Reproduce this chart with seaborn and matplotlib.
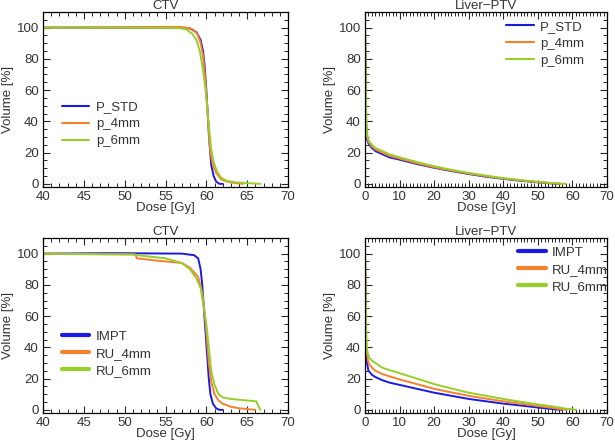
import numpy as np
import pandas as pd
import matplotlib
matplotlib.use("Agg")
import matplotlib.pyplot as plt
import seaborn as sns
from matplotlib.ticker import MultipleLocator

# --- CTV, top panel (x = dose Gy, y = volume %)
ctv_std_x = [40, 57, 58, 58.8, 59.3, 59.6, 59.8, 60.0, 60.2, 60.4, 60.6, 60.9, 61.2, 61.6, 62.0]
ctv_std_y = [100, 100, 99.5, 97, 92, 85, 75, 60, 42, 25, 12, 5, 1.5, 0, 0]
ctv_4mm_x = [40, 56.5, 57.5, 58.3, 58.9, 59.3, 59.6, 59.9, 60.1, 60.3, 60.5, 60.8, 61.2, 61.8, 62.5, 63.5, 64.5]
ctv_4mm_y = [100, 100.5, 100, 99, 96, 90, 82, 65, 50, 32, 20, 12, 7, 3, 1.5, 0.5, 0]
ctv_6mm_x = [40, 56.5, 57.5, 58.3, 58.8, 59.2, 59.5, 59.8, 60.0, 60.3, 60.6, 60.9, 61.3, 61.8, 62.5, 63.5, 65.0, 66.6]
ctv_6mm_y = [100, 99.8, 99, 96, 92, 85, 76, 65, 55, 38, 22, 14, 8, 4, 2, 1, 0.5, 0]

# --- Liver-PTV, top panel
liv_std_x = [0, 0.15, 0.3, 0.5, 1, 2, 3, 5, 7, 10, 15, 20, 25, 30, 35, 40, 45, 50, 54, 56]
liv_std_y = [100, 75, 40, 29, 26, 23, 21, 19, 17, 15.5, 12.7, 10.3, 8.2, 6.3, 4.6, 3.2, 2.0, 1.0, 0.3, 0]
liv_4mm_x = [0, 0.15, 0.3, 0.5, 1, 2, 3, 5, 7, 10, 15, 20, 25, 30, 35, 40, 45, 50, 55, 57]
liv_4mm_y = [100, 78, 45, 31, 27, 24, 22, 20, 18, 16.2, 13.2, 10.6, 8.5, 6.6, 4.9, 3.4, 2.2, 1.1, 0.3, 0]
liv_6mm_x = [0, 0.15, 0.3, 0.5, 1, 2, 3, 5, 7, 10, 15, 20, 25, 30, 35, 40, 45, 50, 55, 58]
liv_6mm_y = [100, 85, 50, 33, 28, 25, 23, 21, 19, 17, 14, 11.3, 9, 7, 5.3, 3.7, 2.5, 1.3, 0.4, 0]

# --- CTV, bottom panel
ctv_impt_x = [40, 48.5, 57, 58.5, 59.0, 59.3, 59.5, 59.7, 59.9, 60.1, 60.3, 60.5, 60.8, 61.2, 61.6, 62.0]
ctv_impt_y = [100, 100.3, 100, 99, 97, 90, 80, 65, 50, 35, 20, 10, 4, 1, 0, 0]
ctv_ru4_x = [40, 43, 51.3, 51.5, 54, 57, 58, 59, 59.5, 59.8, 60.0, 60.3, 60.6, 61.0, 61.5, 62, 63, 64, 66]
ctv_ru4_y = [100, 99.7, 99.5, 97, 95.5, 94, 91, 85, 75, 62, 50, 30, 18, 10, 6, 4, 2, 1, 0]
ctv_ru6_x = [40, 51, 51.5, 55, 57, 58, 58.8, 59.3, 59.7, 60.0, 60.3, 60.6, 61.0, 61.5, 62, 63, 64, 65, 66.1, 66.6]
ctv_ru6_y = [100, 99.5, 99, 97, 94, 90, 84, 78, 65, 55, 40, 25, 16, 10, 8, 7, 6.5, 6, 5.5, 0]

# --- Liver-PTV, bottom panel
liv_impt_x = [0, 0.15, 0.3, 0.5, 1, 2, 3, 5, 7, 10, 15, 20, 25, 30, 35, 40, 45, 50, 55, 57]
liv_impt_y = [100, 78, 40, 31, 25, 22.5, 21, 19, 17.5, 16, 13.5, 11, 9, 7, 5.5, 4, 2.8, 1.5, 0.3, 0]
liv_ru4_x = [0, 0.15, 0.3, 0.5, 1, 2, 3, 5, 7, 10, 15, 20, 25, 30, 35, 40, 45, 50, 55, 58]
liv_ru4_y = [100, 80, 45, 37, 30, 27, 25, 23, 21.5, 19.5, 16.5, 13.5, 11.2, 9, 7.2, 5.5, 4, 2.5, 1, 0]
liv_ru6_x = [0, 0.15, 0.3, 0.5, 1, 2, 3, 5, 7, 10, 15, 20, 25, 30, 35, 40, 45, 50, 55, 58, 60, 61]
liv_ru6_y = [100, 85, 55, 40, 34, 31.5, 30, 27, 25.5, 23.5, 20, 16.5, 13.7, 11, 9, 7, 5.2, 3.5, 2, 0.8, 0.3, 0]

top_names = ["P_STD", "p_4mm", "p_6mm"]
bot_names = ["IMPT", "RU_4mm", "RU_6mm"]
colors = ["#1a1ae0", "#f7802c", "#96cf2a"]


def frame(names, xs, ys):
    parts = []
    for n, x, y in zip(names, xs, ys):
        parts.append(pd.DataFrame({"dose": x, "vol": y, "plan": n}))
    return pd.concat(parts, ignore_index=True)


panels = [
    (frame(top_names, [ctv_std_x, ctv_4mm_x, ctv_6mm_x], [ctv_std_y, ctv_4mm_y, ctv_6mm_y]), "CTV", top_names, 1.5),
    (frame(top_names, [liv_std_x, liv_4mm_x, liv_6mm_x], [liv_std_y, liv_4mm_y, liv_6mm_y]), "Liver\u2212PTV", top_names, 1.5),
    (frame(bot_names, [ctv_impt_x, ctv_ru4_x, ctv_ru6_x], [ctv_impt_y, ctv_ru4_y, ctv_ru6_y]), "CTV", bot_names, 3.0),
    (frame(bot_names, [liv_impt_x, liv_ru4_x, liv_ru6_x], [liv_impt_y, liv_ru4_y, liv_ru6_y]), "Liver\u2212PTV", bot_names, 3.0),
]

sns.set_style("ticks")
plt.rcParams["font.family"] = ["Liberation Sans", "DejaVu Sans"]
plt.rcParams["axes.linewidth"] = 0.9
fs = 9.5
txt = "#333333"

fig = plt.figure(figsize=(6.15, 4.44), dpi=100)
rects = [
    [43 / 615, 1 - 187 / 444, 245 / 615, 175 / 444],
    [365 / 615, 1 - 187 / 444, 242 / 615, 175 / 444],
    [43 / 615, 1 - 413 / 444, 245 / 615, 175 / 444],
    [365 / 615, 1 - 413 / 444, 242 / 615, 175 / 444],
]
legend_pos = [(0.055, 0.52), (0.56, 0.98), (0.055, 0.50), (0.61, 0.98)]

for i, (df, title, names, leg_lw) in enumerate(panels):
    ax = fig.add_axes(rects[i])
    sns.lineplot(data=df, x="dose", y="vol", hue="plan", hue_order=names,
                 palette=colors, estimator=None, sort=False, linewidth=1.4, ax=ax)
    is_ctv = title == "CTV"
    if is_ctv:
        ax.set_xlim(40, 70)
        ax.xaxis.set_major_locator(MultipleLocator(5))
    else:
        ax.set_xlim(0, 70)
        ax.xaxis.set_major_locator(MultipleLocator(10))
    ax.xaxis.set_minor_locator(MultipleLocator(1))
    ax.set_ylim(-2, 110)
    ax.yaxis.set_major_locator(MultipleLocator(20))
    ax.yaxis.set_minor_locator(MultipleLocator(5))
    ax.set_yticks([0, 20, 40, 60, 80, 100])
    ax.tick_params(which="both", direction="in", top=True, right=True,
                   labelsize=fs, labelcolor=txt, pad=3)
    ax.tick_params(which="major", length=5, width=0.8)
    ax.tick_params(which="minor", length=3, width=0.7, bottom=True, left=True)
    for s in ax.spines.values():
        s.set_visible(True)
        s.set_color("black")
    ax.set_title(title, fontsize=fs, pad=2, color=txt)
    ax.set_xlabel("Dose [Gy]", fontsize=fs, labelpad=-1, color=txt)
    ax.set_ylabel("Volume [%]", fontsize=fs, color=txt)
    ax.yaxis.set_label_coords(-29 / 245, 0.5)

    handles, labels = ax.get_legend_handles_labels()
    leg = ax.legend(handles, labels, loc="upper left", bbox_to_anchor=legend_pos[i],
                    frameon=False, handlelength=2.1, handletextpad=0.5,
                    labelspacing=0.35, borderaxespad=0, fontsize=fs)
    for t in leg.get_texts():
        t.set_color(txt)
    for ln in leg.get_lines():
        ln.set_linewidth(leg_lw)

fig.savefig("out.png", dpi=100)
